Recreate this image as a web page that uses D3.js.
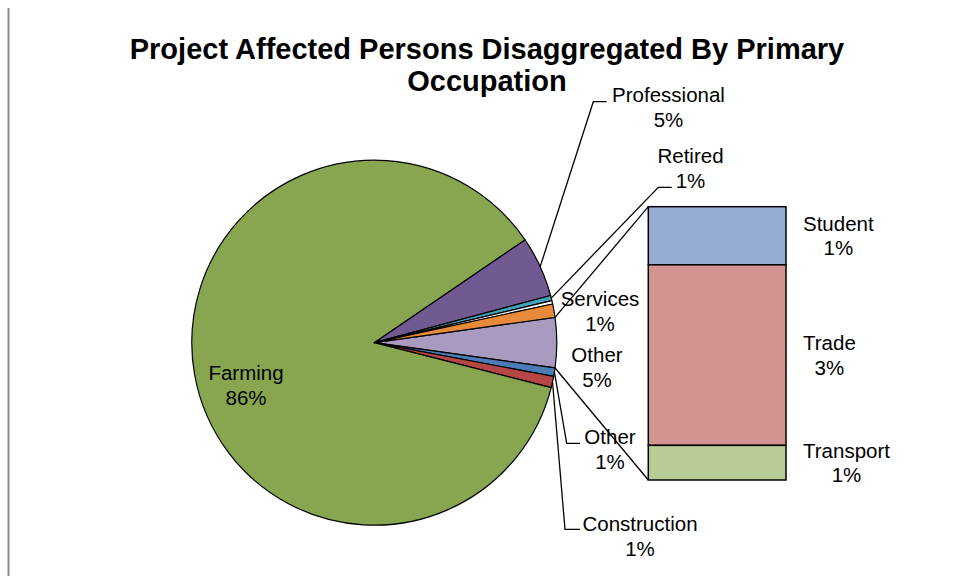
<!DOCTYPE html>
<html>
<head>
<meta charset="utf-8">
<script src="https://cdn.jsdelivr.net/npm/d3@7"></script>
<style>
  body { margin: 0; background: #fff; }
  text { font-family: Arial, "Liberation Sans", sans-serif; fill: #000; }
</style>
</head>
<body>
<div id="chart"></div>
<script>
// pie (primary) slices, clockwise after the combined "Other" slice
var primaryCats = ["Other", "Construction", "Farming", "Professional", "Retired", "Unlabelled", "Services"];
var primaryValues = [0.75, 0.99, 86.5, 5.36, 0.46, 0.30, 1.19];
var primaryLabels = ["1%", "1%", "86%", "5%", "1%", "", "1%"];

// bar (secondary) stack, top to bottom
var secondaryCats = ["Student", "Trade", "Transport"];
var secondaryValues = [0.94, 2.92, 0.56];
var secondaryLabels = ["1%", "3%", "1%"];

var otherName = "Other";
var otherLabel = "5%";

var titleLines = ["Project Affected Persons Disaggregated By Primary", "Occupation"];

// styles
var primaryColors = ["#4A7CB8", "#B64744", "#87A64F", "#705A91", "#45A0B9", "#FFFFFF", "#E78B3A"];
var secondaryColors = ["#95ABD1", "#D39391", "#B8CD95"];
var otherColor = "#A99BBF";

var width = 958, height = 576;
var cx = 374.3, cy = 342.7, R = 182.5;
var barX0 = 648.3, barX1 = 786, barTop = 206.7, barBottom = 480;
var fontSize = 20.5, lineGap = 24.8;

var svg = d3.select("#chart").append("svg")
  .attr("width", width)
  .attr("height", height);

// left border line
svg.append("line")
  .attr("x1", 8.5).attr("x2", 8.5)
  .attr("y1", 8).attr("y2", height)
  .attr("stroke", "#8a8a8a")
  .attr("stroke-width", 2);

// title
svg.append("text")
  .attr("x", 487).attr("y", 59)
  .attr("text-anchor", "middle")
  .style("font-size", "29px")
  .style("font-weight", "bold")
  .selectAll("tspan")
  .data(titleLines)
  .enter().append("tspan")
  .attr("x", 487)
  .attr("dy", function (d, i) { return i === 0 ? 0 : 32; })
  .text(function (d) { return d; });

// pie data: combined slice first
var combined = d3.sum(secondaryValues);
var pieData = [{ name: otherName, value: combined, label: otherLabel, color: otherColor }];
primaryCats.forEach(function (c, i) {
  pieData.push({ name: c, value: primaryValues[i], label: primaryLabels[i], color: primaryColors[i] });
});
var total = d3.sum(pieData, function (d) { return d.value; });
var combinedAngle = 2 * Math.PI * combined / total;
var start = Math.PI / 2 - combinedAngle / 2;

var pie = d3.pie()
  .sort(null)
  .value(function (d) { return d.value; })
  .startAngle(start)
  .endAngle(start + 2 * Math.PI);

var arcs = pie(pieData);
var arc = d3.arc().innerRadius(0).outerRadius(R);

function rim(a, r) {
  r = r || R;
  return [cx + r * Math.sin(a), cy - r * Math.cos(a)];
}

var g = svg.append("g").attr("transform", "translate(" + cx + "," + cy + ")");
g.selectAll("path")
  .data(arcs)
  .enter().append("path")
  .attr("d", arc)
  .attr("fill", function (d) { return d.data.color; })
  .attr("stroke", "#000")
  .attr("stroke-width", 1.2)
  .attr("stroke-linejoin", "round");

// bar of pie
var y = d3.scaleLinear().domain([0, combined]).range([barBottom, barTop]);
var stackRows = [];
var acc = 0;
for (var i = secondaryCats.length - 1; i >= 0; i--) {
  stackRows.unshift({ name: secondaryCats[i], label: secondaryLabels[i], color: secondaryColors[i], y0: acc, y1: acc + secondaryValues[i] });
  acc += secondaryValues[i];
}

// series lines from the combined slice to the bar
var topPt = rim(arcs[0].startAngle);
var botPt = rim(arcs[0].endAngle);
svg.append("line")
  .attr("x1", topPt[0]).attr("y1", topPt[1])
  .attr("x2", barX0).attr("y2", y(combined))
  .attr("stroke", "#000").attr("stroke-width", 1.3);
svg.append("line")
  .attr("x1", botPt[0]).attr("y1", botPt[1])
  .attr("x2", barX0).attr("y2", y(0))
  .attr("stroke", "#000").attr("stroke-width", 1.3);

svg.append("g").selectAll("rect")
  .data(stackRows)
  .enter().append("rect")
  .attr("x", barX0)
  .attr("y", function (d) { return y(d.y1); })
  .attr("width", barX1 - barX0)
  .attr("height", function (d) { return y(d.y0) - y(d.y1); })
  .attr("fill", function (d) { return d.color; })
  .attr("stroke", "#000")
  .attr("stroke-width", 1.5);

// label placement for pie labels: block centre relative to pie centre,
// leader elbow/end relative to the label centre
var pieLabelPos = {
  "0": { at: [222.7, 24.8] },
  "1": { at: [235.7, 106.3], elbow: [-43.3, -5.7], end: [-30, -5.7] },
  "2": { at: [265.7, 193.8], elbow: [-75, -7.2], end: [-60, -7.2] },
  "3": { at: [-128.3, 42.3] },
  "4": { at: [294.2, -235.2], elbow: [-75.2, -5.8], end: [-61.8, -5.8] },
  "5": { at: [316.2, -174.2], elbow: [-32.2, 18.8], end: [-18.8, 18.8] },
  "7": { at: [225.7, -31.9] }
};

var leaders = svg.append("g");
var labels = svg.append("g").style("font-size", fontSize + "px");

function twoLine(x, yc, a, b) {
  var t = labels.append("text").attr("text-anchor", "middle");
  t.append("tspan").attr("x", x).attr("y", yc - lineGap / 2 + 7.3).text(a);
  t.append("tspan").attr("x", x).attr("y", yc + lineGap / 2 + 7.3).text(b);
  return t;
}

arcs.forEach(function (d, i) {
  var p = pieLabelPos[String(i)];
  if (!p || !d.data.label) return;
  var lx = cx + p.at[0], ly = cy + p.at[1];
  twoLine(lx, ly, d.data.name, d.data.label);
  if (p.elbow) {
    var mid = rim((d.startAngle + d.endAngle) / 2);
    leaders.append("polyline")
      .attr("points", [mid, [lx + p.elbow[0], ly + p.elbow[1]], [lx + p.end[0], ly + p.end[1]]].map(function (q) { return q.join(","); }).join(" "))
      .attr("fill", "none")
      .attr("stroke", "#000")
      .attr("stroke-width", 1.3);
  }
});

// bar labels: left edge of text block sits just right of the bar
stackRows.forEach(function (d) {
  var yc = (y(d.y0) + y(d.y1)) / 2;
  var t = twoLine(0, yc, d.name, d.label);
  var w = 0;
  t.selectAll("tspan").each(function () { w = Math.max(w, this.getComputedTextLength()); });
  t.selectAll("tspan").attr("x", barX1 + 17 + w / 2);
});
</script>
</body>
</html>
